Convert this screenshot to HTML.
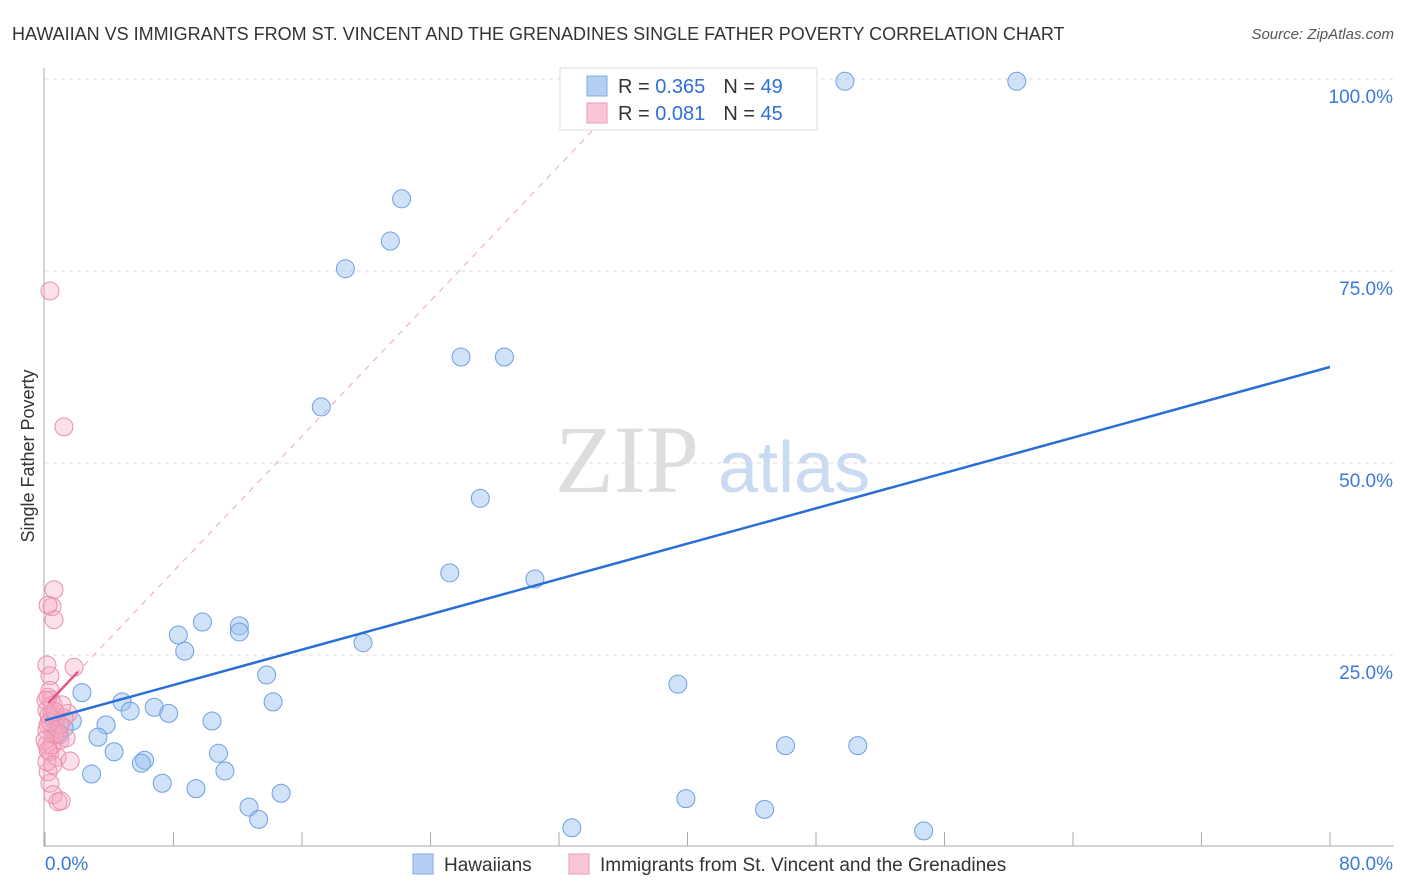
<!DOCTYPE html>
<html><head><meta charset="utf-8"><style>
body{margin:0;background:#fff;font-family:"Liberation Sans",sans-serif}
svg{display:block}
</style></head><body>
<svg width="1406" height="892" xmlns="http://www.w3.org/2000/svg">
<text x="12" y="40" font-size="18" fill="#333">HAWAIIAN VS IMMIGRANTS FROM ST. VINCENT AND THE GRENADINES SINGLE FATHER POVERTY CORRELATION CHART</text>
<text x="1394" y="39" font-size="15" fill="#555" font-style="italic" text-anchor="end">Source: ZipAtlas.com</text>
<text x="555" y="492" font-size="96" fill="#ddd" font-family="Liberation Serif,serif">ZIP</text>
<text x="718" y="492" font-size="72" fill="#c9daf3">atlas</text>
<g id="grid"></g>
<g id="axes"></g>
<g id="marks"></g>
<text transform="translate(34,456) rotate(-90)" font-size="18" fill="#333" text-anchor="middle">Single Father Poverty</text>
<g>
<rect x="560" y="68" width="257" height="62" fill="#fff" stroke="#ddd"/>
<rect x="587" y="76" width="20" height="20" fill="#b5cff3" stroke="#7ea8e3"/>
<rect x="587" y="103" width="20" height="20" fill="#f9c6d6" stroke="#eb9ab4"/>
<text x="618" y="93" font-size="20" fill="#333">R = <tspan fill="#2f6fd6">0.365</tspan><tspan dx="18">N = </tspan><tspan fill="#2f6fd6">49</tspan></text>
<text x="618" y="120" font-size="20" fill="#333">R = <tspan fill="#2f6fd6"> 0.081</tspan><tspan dx="18">N = </tspan><tspan fill="#2f6fd6">45</tspan></text>
</g>
<g>
<rect x="413" y="854" width="20" height="20" fill="#b5cff3" stroke="#7ea8e3"/>
<text x="444" y="871" font-size="19" fill="#333">Hawaiians</text>
<rect x="569" y="854" width="20" height="20" fill="#f9c6d6" stroke="#eb9ab4"/>
<text x="600" y="871" font-size="19" fill="#333">Immigrants from St. Vincent and the Grenadines</text>
</g>
</svg>
<script>
const blueX=[49.8,60.5,22.2,21.5,18.7,25.9,28.6,17.2,27.1,25.2,30.5,19.8,8.3,9.8,8.7,12.1,12.1,13.8,14.2,2.3,1.7,4.8,5.3,6.8,7.7,3.8,3.3,0.9,10.4,6.2,6.0,4.3,2.9,7.3,9.4,10.8,11.2,12.7,13.3,14.7,39.4,46.1,50.6,39.9,44.8,32.8,54.7,0.6,1.2];
const blueY=[99.7,99.7,84.4,78.9,75.3,63.8,63.8,57.3,45.4,35.7,34.9,26.6,27.6,29.3,25.5,28.8,28.0,22.4,18.9,20.1,16.4,18.9,17.7,18.2,17.4,15.9,14.3,14.6,16.4,11.3,10.9,12.4,9.5,8.3,7.6,12.2,9.9,5.2,3.6,7.0,21.2,13.2,13.2,6.3,4.9,2.5,2.1,16.5,15.5];
const pinkX=[0.31,1.18,0.56,0.44,0.56,0.19,1.81,0.12,0.31,0.19,0.37,0.12,0.44,0.68,1.43,1.18,0.19,0.62,0.93,1.31,0.12,0.31,0.75,1.56,0.19,0.31,0.5,0.81,1.0,0.12,0.62,0.44,0.12,0.93,0.31,0.5,0.81,0,0.25,1.06,0.31,0.62,0.19,0.5,0.06];
const pinkY=[72.4,54.7,33.5,31.3,29.6,31.5,23.4,23.7,22.3,19.5,19.1,17.8,17.4,16.8,17.4,16.8,15.9,15.2,13.9,14.2,13.3,12.4,11.7,11.2,9.8,8.3,6.8,5.9,6.0,11.1,14.6,13.3,15.2,15.9,20.4,18.5,14.8,13.9,17.2,18.5,16.3,17.6,12.6,10.7,19.1];
const blueTrend=[16.5,62.5];
const pinkTrend=[18.3,2.2];
const yTicks=[25,50,75,100];
const yTickLabels=["25.0%","50.0%","75.0%","100.0%"];
const xTicks=[0,8,16,24,32,40,48,56,64,72,80];
const X0=45,X1=1330,Y0=847,YPER=7.68;
const sx=v=>X0+v/80*(X1-X0);
const sy=v=>Y0-v*YPER;
const NS="http://www.w3.org/2000/svg";
function mk(parent,tag,attrs){const e=document.createElementNS(NS,tag);for(const k in attrs)e.setAttribute(k,attrs[k]);document.getElementById(parent).appendChild(e);return e;}
yTicks.forEach((t,i)=>{
 const l=mk('grid','line',{x1:45,x2:1394,y1:sy(t),y2:sy(t),stroke:'#ddd','stroke-dasharray':'4,4'});
 
 
 const tx=mk('grid','text',{x:1393,y:sy(t)+24,'font-size':19,fill:'#3b78d8','text-anchor':'end'});
 tx.textContent=yTickLabels[i];
 
 
});
const ax=mk('axes','line',{x1:44,x2:44,y1:68,y2:847,stroke:'#aaa'});


const bx=mk('axes','line',{x1:44,x2:1394,y1:846,y2:846,stroke:'#aaa'});


xTicks.forEach(t=>{
 const l=mk('axes','line',{x1:sx(t),x2:sx(t),y1:832,y2:846,stroke:'#aaa'});
 
 
});
const xl0=mk('axes','text',{x:45,y:870,'font-size':19,fill:'#3b78d8'});xl0.textContent='0.0%';


const xl1=mk('axes','text',{x:1393,y:870,'font-size':19,fill:'#3b78d8','text-anchor':'end'});xl1.textContent='80.0%';


// pink dashed extension
const pxEnd=(100-pinkTrend[0])/pinkTrend[1];
const pd=mk('marks','line',{x1:sx(1.9),y1:sy(pinkTrend[0]+pinkTrend[1]*1.9),x2:sx(pxEnd),y2:sy(100),stroke:'#eba5bb','stroke-dasharray':'6,6'});


blueX.forEach((v,i)=>{
 const c=mk('marks','circle',{cx:sx(v),cy:sy(blueY[i]),r:9,fill:'rgba(150,190,240,0.45)',stroke:'#6d9fe2','stroke-width':1});
 
 
});
pinkX.forEach((v,i)=>{
 const c=mk('marks','circle',{cx:sx(v),cy:sy(pinkY[i]),r:9,fill:'rgba(245,170,195,0.35)',stroke:'#e98fab','stroke-width':1});
 
 
});
const bt=mk('marks','line',{x1:sx(0),y1:sy(blueTrend[0]),x2:sx(80),y2:sy(blueTrend[1]),stroke:'#2a6fd6','stroke-width':2.5});


const pt=mk('marks','line',{x1:sx(0.2),y1:sy(pinkTrend[0]+pinkTrend[1]*0.2),x2:sx(2.05),y2:sy(pinkTrend[0]+pinkTrend[1]*2.05),stroke:'#e4567f','stroke-width':2.5});


</script>
</body></html>
